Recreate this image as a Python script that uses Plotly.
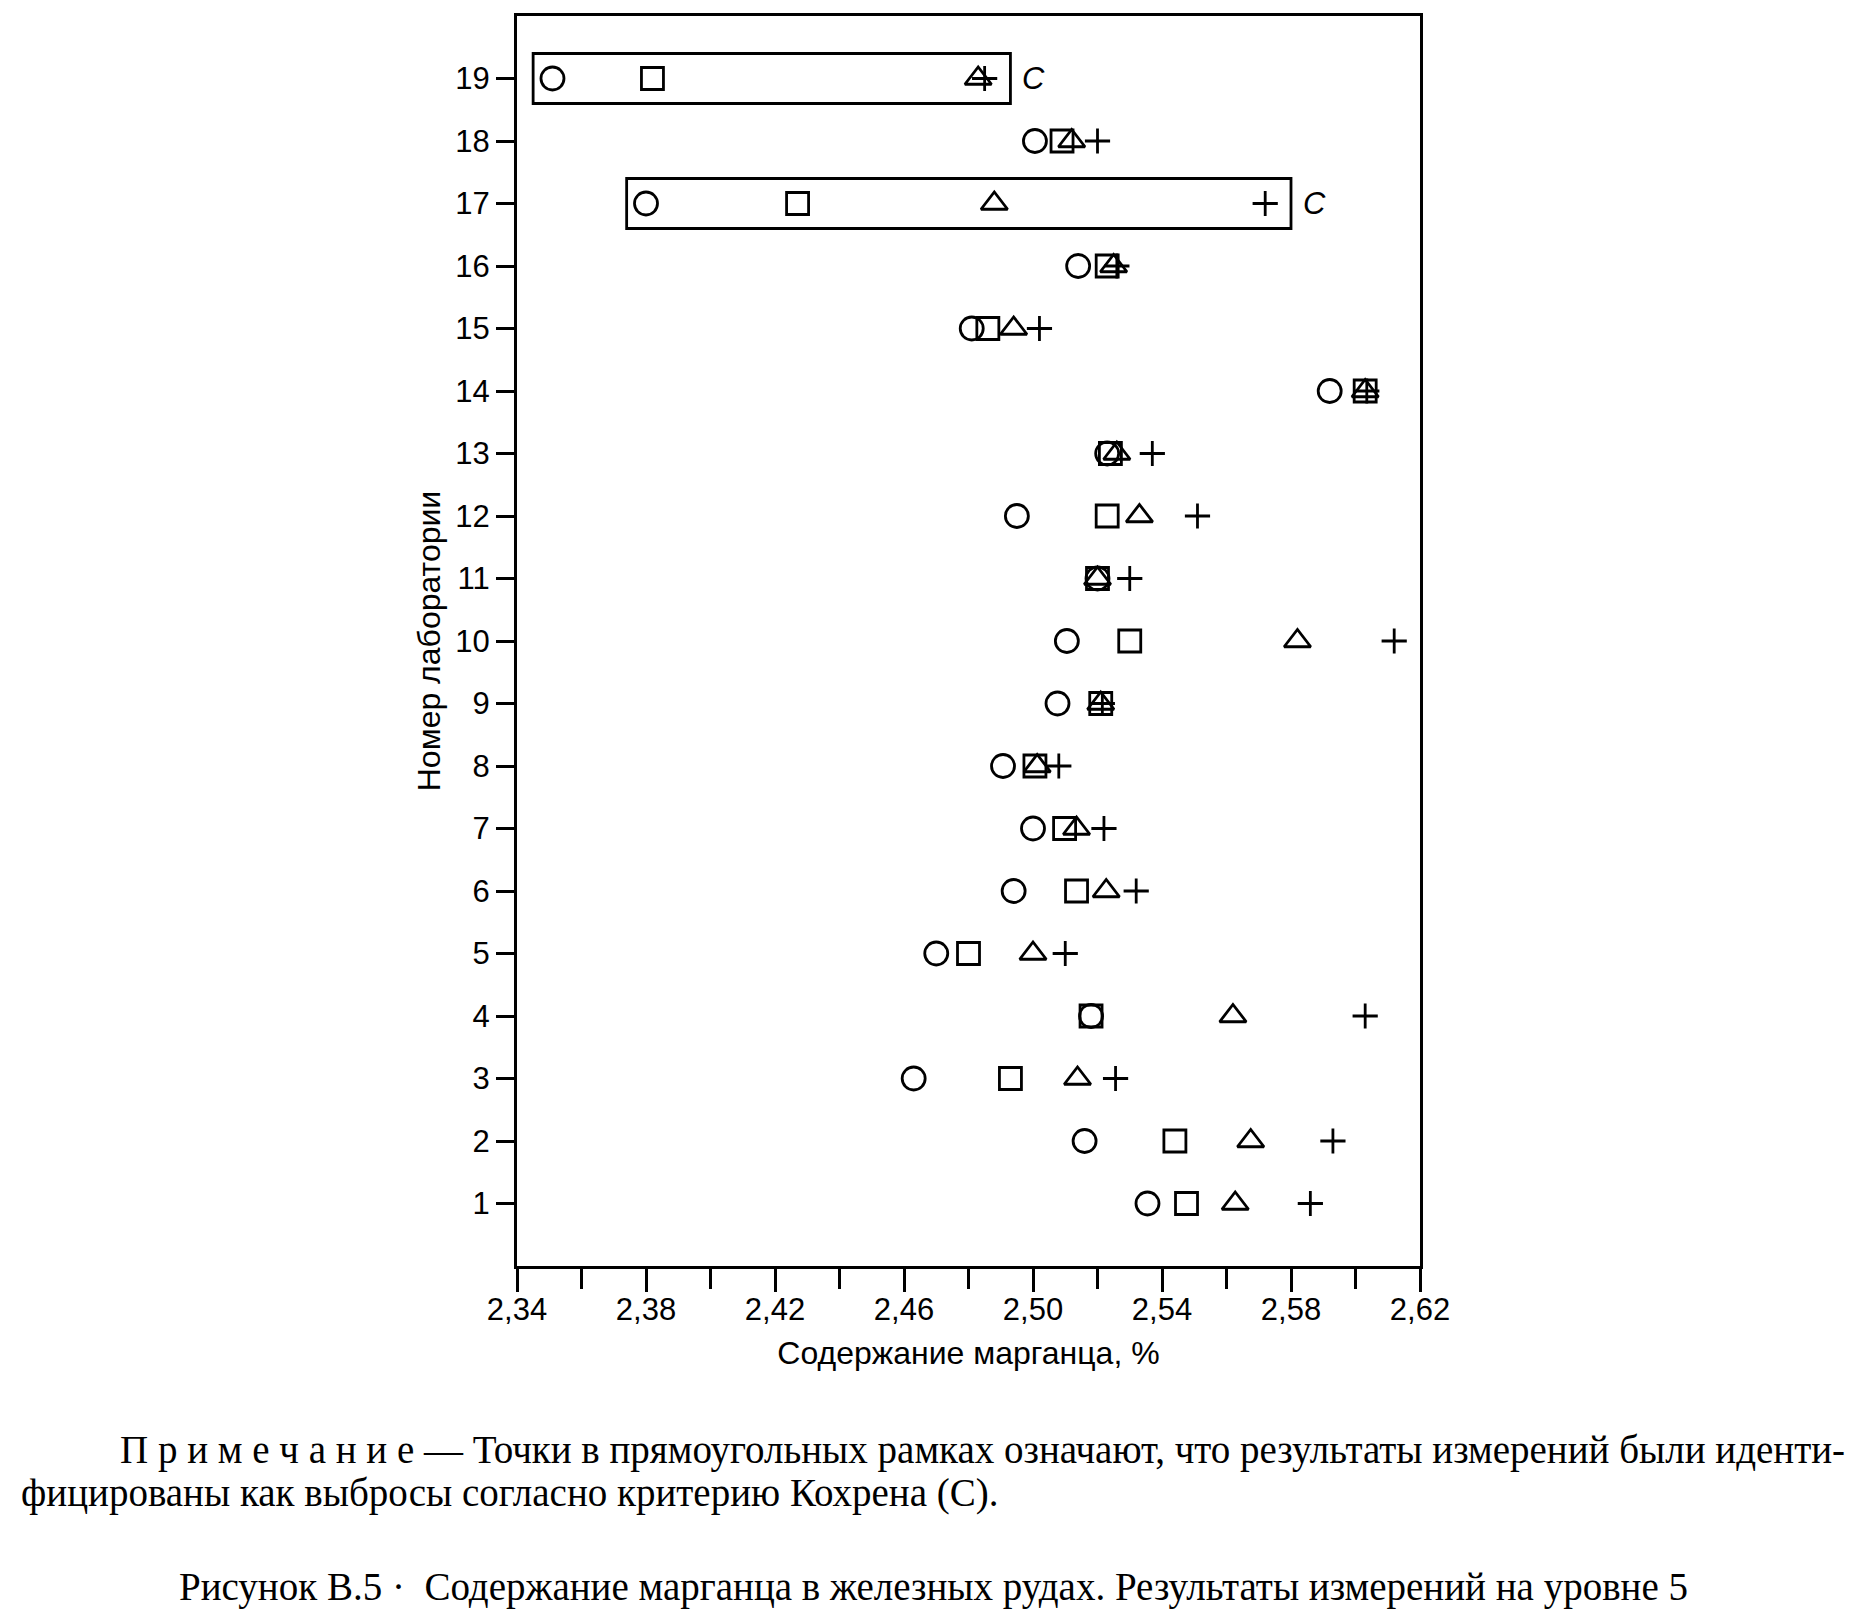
import plotly.graph_objects as go

# lab numbers and the four replicate results (Mn, %)
labs = list(range(1, 20))
res_circle = [2.5355, 2.516, 2.463, 2.518, 2.470, 2.494, 2.500, 2.4907, 2.5076, 2.5105,
              2.520, 2.495, 2.523, 2.592, 2.481, 2.514, 2.380, 2.5006, 2.351]
res_square = [2.5476, 2.544, 2.493, 2.518, 2.480, 2.5135, 2.5098, 2.5006, 2.521, 2.530,
              2.520, 2.523, 2.524, 2.603, 2.486, 2.523, 2.427, 2.509, 2.382]
res_triangle = [2.5627, 2.5675, 2.5138, 2.562, 2.500, 2.5227, 2.5135, 2.5013, 2.521, 2.582,
                2.520, 2.533, 2.526, 2.603, 2.494, 2.525, 2.488, 2.512, 2.483]
res_plus = [2.586, 2.593, 2.5256, 2.603, 2.510, 2.532, 2.522, 2.508, 2.5215, 2.612,
            2.530, 2.551, 2.537, 2.6035, 2.502, 2.526, 2.572, 2.520, 2.485]

# labs flagged by Cochran's test
outlier_labs = [17, 19]

x_ticks = [2.34, 2.38, 2.42, 2.46, 2.50, 2.54, 2.58, 2.62]
x_tick_text = ["2,34", "2,38", "2,42", "2,46", "2,50", "2,54", "2,58", "2,62"]

sans = "Liberation Sans, Arial, sans-serif"
serif = "Liberation Serif, Times New Roman, serif"

fig = go.Figure()
for vals, sym, sz in [(res_circle, "circle-open", 23), (res_square, "square-open", 22),
                      (res_triangle, "triangle-up-open", 23), (res_plus, "cross-thin-open", 18)]:
    fig.add_trace(go.Scatter(
        x=vals, y=labs, mode="markers", showlegend=False,
        marker=dict(symbol=sym, size=sz, color="black",
                    line=dict(color="black", width=2.8)),
    ))

# rectangles round the outlier rows, plus the "C" mark
for lab in outlier_labs:
    i = labs.index(lab)
    row = [res_circle[i], res_square[i], res_triangle[i], res_plus[i]]
    lo, hi = min(row) - 0.006, max(row) + 0.008
    fig.add_shape(type="rect", xref="x", yref="y", x0=lo, x1=hi, y0=lab - 0.4, y1=lab + 0.4,
                  line=dict(color="black", width=2.8))
    fig.add_annotation(x=hi + 0.003, y=lab, xref="x", yref="y", text="<i>C</i>",
                       showarrow=False, xanchor="left",
                       font=dict(family=sans, size=31, color="black"))

fig.update_xaxes(
    range=[2.34, 2.62], tickvals=x_ticks, ticktext=x_tick_text,
    minor=dict(dtick=0.02, ticks="outside", ticklen=20, tickwidth=2.5, tickcolor="black"),
    ticks="outside", ticklen=23, tickwidth=2.5, tickcolor="black",
    ticklabelstandoff=-9,
    showline=True, linecolor="black", linewidth=3, mirror=True,
    showgrid=False, zeroline=False,
    tickfont=dict(family=sans, size=31, color="black"),
    title=dict(text="Содержание марганца, %", standoff=16,
               font=dict(family=sans, size=32, color="black")),
)
fig.update_yaxes(
    range=[0, 20], tickvals=labs,
    ticks="outside", ticklen=18, tickwidth=2.5, tickcolor="black",
    showline=True, linecolor="black", linewidth=3, mirror=True,
    showgrid=False, zeroline=False,
    tickfont=dict(family=sans, size=31, color="black"),
    title=dict(text="Номер лаборатории", standoff=6,
               font=dict(family=sans, size=32, color="black")),
)

# note and figure caption below the chart
fig.add_annotation(
    xref="paper", yref="paper", x=-0.4415, y=-0.1468, xanchor="left", yanchor="middle",
    text="П р и м е ч а н и е — Точки в прямоугольных рамках означают, что результаты измерений были иденти-",
    showarrow=False, font=dict(family=serif, size=39, color="black"))
fig.add_annotation(
    xref="paper", yref="paper", x=-0.551, y=-0.1812, xanchor="left", yanchor="middle",
    text="фицированы как выбросы согласно критерию Кохрена (С).",
    showarrow=False, font=dict(family=serif, size=39, color="black"))
fig.add_annotation(
    xref="paper", yref="paper", x=-0.376, y=-0.2568, xanchor="left", yanchor="middle",
    text="Рисунок В.5 ·  Содержание марганца в железных рудах. Результаты измерений на уровне 5",
    showarrow=False, font=dict(family=serif, size=39, color="black"))

# page body adds an 8 px offset, so the canvas is 8 px smaller each way
fig.update_layout(
    width=1849, height=1606,
    margin=dict(l=509, r=437, t=5, b=348),
    paper_bgcolor="white", plot_bgcolor="white",
)

fig.write_html("out.html")
